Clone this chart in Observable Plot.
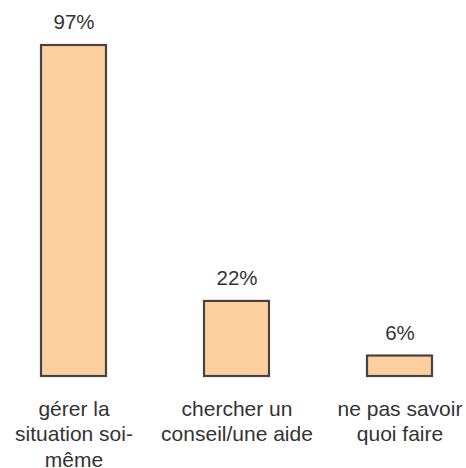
<!DOCTYPE html>
<html>
<head>
<meta charset="utf-8">
<script src="https://cdn.jsdelivr.net/npm/d3@7"></script>
<script src="https://cdn.jsdelivr.net/npm/@observablehq/plot@0.6"></script>
<style>
  html, body { margin: 0; padding: 0; background: #fff; }
  #chart svg { display: block; }
</style>
</head>
<body>
<div id="chart"></div>
<script>
const categories = ["gérer la situation soi-même", "chercher un conseil/une aide", "ne pas savoir quoi faire"];
const values = [97, 22, 6];
const valueLabels = ["97%", "22%", "6%"];
const tickLabels = ["gérer la\nsituation soi-\nmême", "chercher un\nconseil/une aide", "ne pas savoir\nquoi faire"];

const data = categories.map((c, i) => ({category: c, value: values[i], label: valueLabels[i]}));
const tickMap = new Map(categories.map((c, i) => [c, tickLabels[i]]));

const chart = Plot.plot({
  width: 466,
  height: 468,
  marginTop: 45,
  marginBottom: 92,
  marginLeft: 40,
  marginRight: 34,
  style: {fontFamily: "'Liberation Sans', Arial, Helvetica, sans-serif", fontSize: "20px", color: "#333", background: "#fff", overflow: "visible"},
  x: {domain: categories, paddingInner: 0.602, paddingOuter: 0, axis: null},
  y: {domain: [0, 97], axis: null},
  marks: [
    Plot.barY(data, {x: "category", y: "value", fill: "#ffd09f", stroke: "#444", strokeWidth: 2.2}),
    Plot.text(data, {x: "category", y: "value", text: "label", dy: -23, lineAnchor: "middle", fontSize: 20.5, fill: "#333"}),
    Plot.axisX({tickSize: 0, tickPadding: 21, fontSize: 21, lineHeight: 1.215, fill: "#333", tickFormat: d => tickMap.get(d), label: null})
  ]
});
document.getElementById("chart").appendChild(chart);
</script>
</body>
</html>
